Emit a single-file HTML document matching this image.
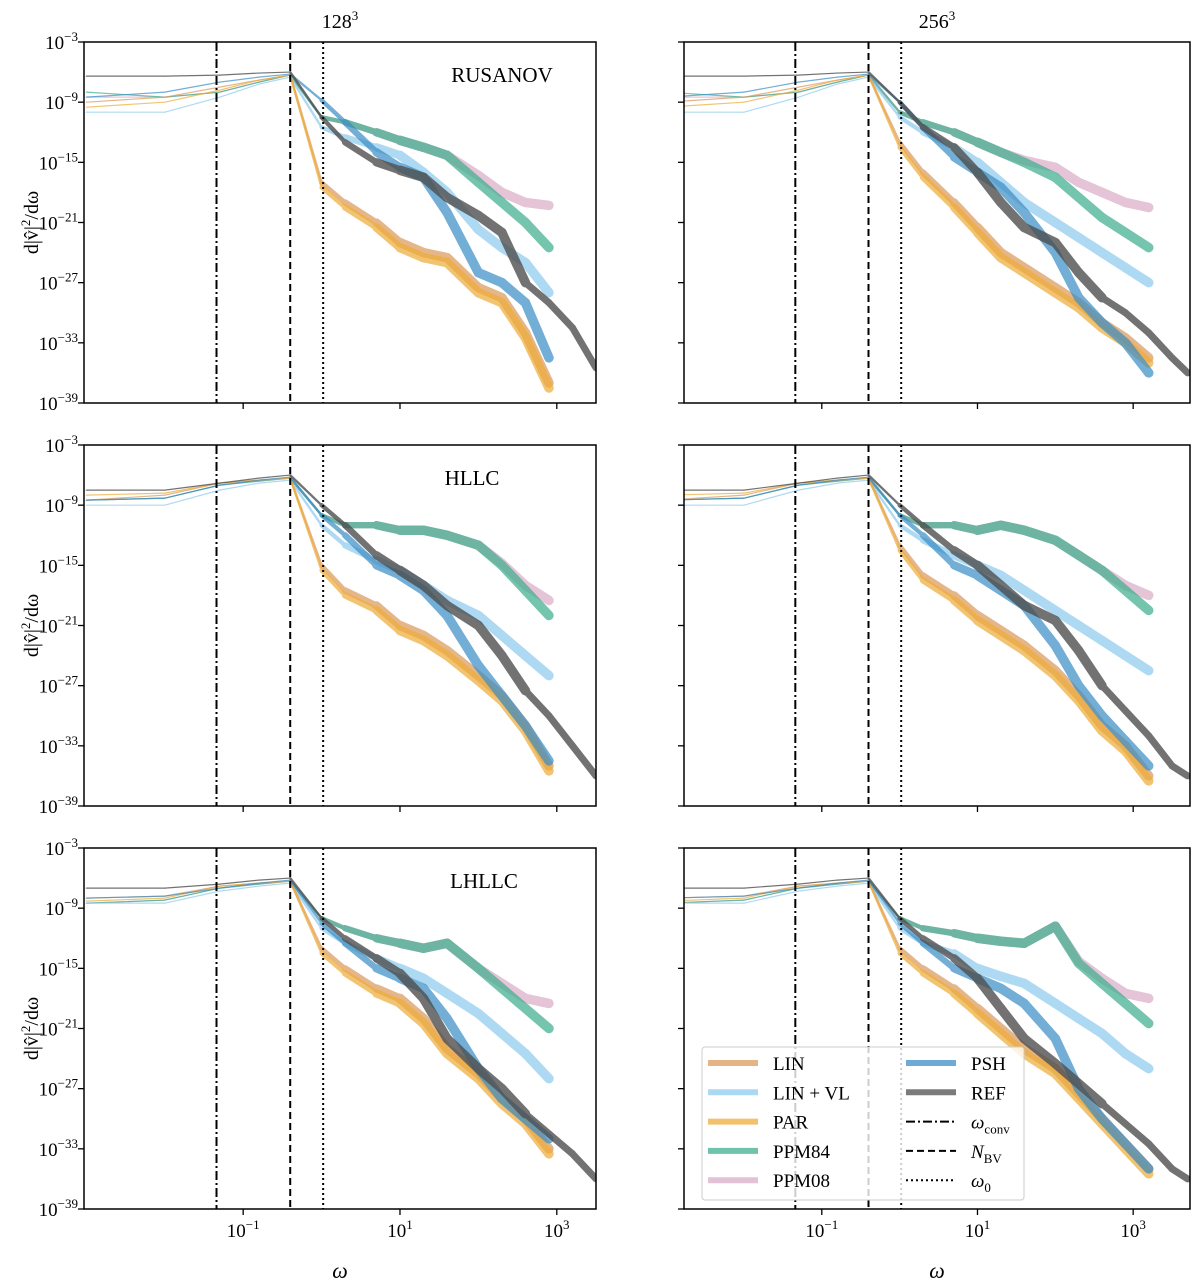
<!DOCTYPE html>
<html><head><meta charset="utf-8"><style>
html,body{margin:0;padding:0;background:#fff}
svg{display:block;font-family:"Liberation Serif",serif}
</style></head><body>
<svg id="fig" width="1200" height="1285" viewBox="0 0 1200 1285" xmlns="http://www.w3.org/2000/svg">
<g id="root"></g>
</svg>
<script>
// shared log10(omega) sample grid
const logOmega = [-3,-2,-1.3,-0.8,-0.4,0,0.3,0.7,1,1.3,1.6,2,2.3,2.6,2.9,3.2,3.5,3.7];
const yTicks = [-3,-9,-15,-21,-27,-33,-39];
const xTicks = [-1,1,3];
const vlines = [-1.34,-0.40,0.02];
const seriesNames = ["PPM08","PPM84","LINVL","LIN","PAR","PSH","REF"];
const legendLabels = ["LIN","LIN + VL","PAR","PPM84","PPM08","PSH","REF"];
const rowTitles = ["RUSANOV","HLLC","LHLLC"];
const colTitles = ["128","256"];

// RUSANOV 128
const r128_REF=[-6.4,-6.4,-6.3,-6.1,-6.0,-10.5,-13,-15,-15.8,-16.5,-18.5,-20.3,-22,-27,-29,-31.5,-35.5,null];
const r128_PSH=[-8.5,-8,-7,-6.5,-6.2,-8.8,-11,-14,-15.5,-16.5,-20,-26,-27,-29,-34.5,null,null,null];
const r128_LIN=[-9,-8.5,-7.5,-6.8,-6.3,-17,-19,-21,-23,-24,-24.5,-27.5,-28.5,-32,-37,null,null,null];
const r128_PAR=[-9.5,-9,-7.8,-6.8,-6.3,-17.5,-19.5,-21.5,-23.5,-24.5,-25,-28,-29,-32.5,-37.5,null,null,null];
const r128_LINVL=[-10,-10,-8.5,-7.2,-6.5,-11.5,-12.5,-13.5,-14.3,-16,-18,-21.7,-23.5,-25,-28,null,null,null];
const r128_PPM84=[-8,-8.5,-8,-7,-6.3,-10.5,-11,-12,-12.8,-13.5,-14.3,-17,-19,-21,-23.5,null,null,null];
const r128_PPM08=[-8.5,-8.5,-8,-7,-6.3,-10.5,-11,-12,-12.8,-13.5,-14.3,-16.3,-18,-19,-19.3,null,null,null];
// RUSANOV 256
const r256_REF=[-6.4,-6.4,-6.3,-6.1,-6.0,-9,-11.5,-13.5,-16,-19,-21.5,-23,-26,-28.5,-30,-32,-34.5,-36];
const r256_PSH=[-8.5,-8,-7,-6.5,-6.2,-9,-11.5,-14.5,-16,-17.5,-20,-24,-28.5,-31,-33,-36,null,null];
const r256_LIN=[-9,-8.5,-7.5,-6.8,-6.3,-13,-16,-19,-21.5,-24,-25.5,-27.5,-29,-31,-32.5,-34.5,null,null];
const r256_PAR=[-9.5,-9,-7.8,-6.8,-6.3,-13.5,-16.5,-19.5,-22,-24.5,-26,-28,-29.5,-31.5,-33,-35,null,null];
const r256_LINVL=[-10,-10,-8.5,-7.2,-6.5,-10.5,-12,-13.5,-15,-17,-19,-21,-22.5,-24,-25.5,-27,null,null];
const r256_PPM84=[-8,-8.5,-8,-7,-6.3,-10,-11,-12,-13,-14,-15,-16.5,-18.5,-20.5,-22,-23.5,null,null];
const r256_PPM08=[-8.5,-8.5,-8,-7,-6.3,-10,-11,-12,-13,-14,-14.8,-15.5,-17,-18,-19,-19.5,null,null];
// HLLC 128
const h128_REF=[-7.5,-7.5,-6.8,-6.3,-6.0,-9,-11,-14,-15.5,-17,-19,-21,-24,-27.5,-30,-33,-36,null];
const h128_PSH=[-8.5,-8.3,-7,-6.5,-6.2,-10,-12,-15,-16,-17.5,-20,-25,-28,-31,-34.5,null,null,null];
const h128_LIN=[-8.5,-8,-6.8,-6.5,-6.3,-15,-17.5,-19,-21,-22,-23.5,-26,-28,-31,-35,null,null,null];
const h128_PAR=[-8,-7.8,-6.8,-6.5,-6.3,-15.5,-18,-19.5,-21.5,-22.5,-24,-26.5,-28.5,-31.5,-35.5,null,null,null];
const h128_LINVL=[-9,-9,-7.5,-6.8,-6.5,-11,-13,-14.5,-15.5,-17,-18.5,-20,-22,-24,-26,null,null,null];
const h128_PPM84=[-8.5,-8.3,-7,-6.6,-6.3,-10,-11,-11,-11.5,-11.5,-12,-13,-15,-17.5,-20,null,null,null];
const h128_PPM08=[-8.5,-8.3,-7,-6.6,-6.3,-10,-11,-11,-11.5,-11.5,-12,-13,-14.8,-17,-18.5,null,null,null];
// HLLC 256
const h256_REF=[-7.5,-7.5,-6.8,-6.3,-6.0,-9,-11,-13.5,-15,-17,-19,-20.5,-23.5,-27,-29.5,-32,-35,-36];
const h256_PSH=[-8.5,-8.3,-7,-6.5,-6.2,-10,-12,-15,-16,-17.5,-19,-23,-27,-30,-32.5,-35,null,null];
const h256_LIN=[-8.5,-8,-6.8,-6.5,-6.3,-13,-16,-18,-20,-21.5,-23,-25.5,-28,-31,-33,-36,null,null];
const h256_PAR=[-8,-7.8,-6.8,-6.5,-6.3,-13.5,-16.5,-18.5,-20.5,-22,-23.5,-26,-28.5,-31.5,-33.5,-36.5,null,null];
const h256_LINVL=[-9,-9,-7.5,-6.8,-6.5,-11,-12.5,-14,-15,-16,-17.5,-19.5,-21,-22.5,-24,-25.5,null,null];
const h256_PPM84=[-8.5,-8.3,-7,-6.6,-6.3,-10,-11,-11,-11.5,-11,-11.5,-12.5,-14,-15.5,-17.5,-19.5,null,null];
const h256_PPM08=[-8.5,-8.3,-7,-6.6,-6.3,-10,-11,-11,-11.5,-11,-11.5,-12.5,-14,-15.5,-17,-18,null,null];
// LHLLC 128
const l128_REF=[-7,-7,-6.6,-6.2,-6.0,-10,-12,-14,-15.5,-18,-22,-25,-27,-29.5,-31.5,-33.5,-36,null];
const l128_PSH=[-8,-7.8,-7,-6.5,-6.2,-10.5,-12.5,-15,-16,-17,-20,-25,-28,-30,-32,null,null,null];
const l128_LIN=[-8,-7.8,-6.8,-6.5,-6.3,-13,-15,-17,-18,-20,-23,-25.5,-28,-30,-33,null,null,null];
const l128_PAR=[-8.3,-8,-6.8,-6.5,-6.3,-13.5,-15.5,-17.5,-18.5,-20.5,-23.5,-26,-28.5,-30.5,-33.5,null,null,null];
const l128_LINVL=[-8.5,-8.5,-7.3,-6.8,-6.5,-11,-12.5,-14,-15,-16,-17.5,-19.5,-21.5,-23.5,-26,null,null,null];
const l128_PPM84=[-8.5,-8.2,-7,-6.6,-6.3,-10,-11,-12,-12.5,-13,-12.5,-15,-17,-19,-21,null,null,null];
const l128_PPM08=[-8.5,-8.2,-7,-6.6,-6.3,-10,-11,-12,-12.5,-13,-12.5,-15,-16.5,-18,-18.5,null,null,null];
// LHLLC 256
const l256_REF=[-7,-7,-6.6,-6.2,-6.0,-10,-12,-14,-16,-19,-22,-24.5,-26.5,-28.5,-30.5,-32.5,-35,-36];
const l256_PSH=[-8,-7.8,-7,-6.5,-6.2,-10.5,-12.5,-15,-16,-17,-18.5,-22,-27,-30,-32.5,-35,null,null];
const l256_LIN=[-8,-7.8,-6.8,-6.5,-6.3,-13,-15,-17,-19,-21,-23,-25,-27.5,-30,-32.5,-35,null,null];
const l256_PAR=[-8.3,-8,-6.8,-6.5,-6.3,-13.5,-15.5,-17.5,-19.5,-21.5,-23.5,-25.5,-28,-30.5,-33,-35.5,null,null];
const l256_LINVL=[-8.5,-8.5,-7.3,-6.8,-6.5,-11,-12.5,-13.5,-15,-15.8,-16.5,-18.5,-20,-21.5,-23.5,-25,null,null];
const l256_PPM84=[-8.5,-8.2,-7,-6.6,-6.3,-10,-11,-11.5,-12,-12.3,-12.5,-10.8,-14.5,-16.5,-18.5,-20.5,null,null];
const l256_PPM08=[-8.5,-8.2,-7,-6.6,-6.3,-10,-11,-11.5,-12,-12.3,-12.5,-10.8,-14.3,-16,-17.5,-18,null,null];

const panelData = [
 [{REF:r128_REF,PSH:r128_PSH,LIN:r128_LIN,PAR:r128_PAR,LINVL:r128_LINVL,PPM84:r128_PPM84,PPM08:r128_PPM08},
  {REF:r256_REF,PSH:r256_PSH,LIN:r256_LIN,PAR:r256_PAR,LINVL:r256_LINVL,PPM84:r256_PPM84,PPM08:r256_PPM08}],
 [{REF:h128_REF,PSH:h128_PSH,LIN:h128_LIN,PAR:h128_PAR,LINVL:h128_LINVL,PPM84:h128_PPM84,PPM08:h128_PPM08},
  {REF:h256_REF,PSH:h256_PSH,LIN:h256_LIN,PAR:h256_PAR,LINVL:h256_LINVL,PPM84:h256_PPM84,PPM08:h256_PPM08}],
 [{REF:l128_REF,PSH:l128_PSH,LIN:l128_LIN,PAR:l128_PAR,LINVL:l128_LINVL,PPM84:l128_PPM84,PPM08:l128_PPM08},
  {REF:l256_REF,PSH:l256_PSH,LIN:l256_LIN,PAR:l256_PAR,LINVL:l256_LINVL,PPM84:l256_PPM84,PPM08:l256_PPM08}]
];

const colors={LIN:"#dc9a5e",LINVL:"#8fcbef",PAR:"#eead3a",PPM84:"#3fae8f",PPM08:"#dcaec8",PSH:"#3d8fc6",REF:"#4f4f4f"};
const legendKeys=["LIN","LINVL","PAR","PPM84","PPM08","PSH","REF"];
const NS="http://www.w3.org/2000/svg";
const root=document.getElementById('root');
function mk(tag,attrs,parent){const e=document.createElementNS(NS,tag);for(const k in attrs)e.setAttribute(k,attrs[k]);(parent||root).appendChild(e);return e;}
const cols=[{x0:84,x1:596,min:-3.03,max:3.5},{x0:684,x1:1190,min:-2.77,max:3.73}];
const rowsTop=[42,445,848];const H=361;
const defs=mk('defs',{});
function sup(t,base,exp){const a=mk('tspan',{},t);a.textContent=base;const b=mk('tspan',{dy:-8,'font-size':13},t);b.textContent=exp;}

for(let r=0;r<3;r++){for(let c=0;c<2;c++){
 const C=cols[c],top=rowsTop[r];
 const sx=v=>C.x0+(v-C.min)/(C.max-C.min)*(C.x1-C.x0);
 const sy=v=>top+(-3-v)/36*H;
 const cid='clip'+r+c;
 const cp=mk('clipPath',{id:cid},defs);mk('rect',{x:C.x0,y:top,width:C.x1-C.x0,height:H},cp);
 const g=mk('g',{'clip-path':'url(#'+cid+')'});
 
 
 const d=panelData[r][c];
 for(const s of seriesNames){
  const vals=d[s];const sg=mk('g',{opacity:s==='REF'?0.8:0.72},g);
  
  
  for(let i=0;i<logOmega.length-1;i++){
   if(vals[i]==null||vals[i+1]==null)continue;
   const xm=(logOmega[i]+logOmega[i+1])/2;
   let w=xm<-0.4?1.2:(xm<1?1.2+(xm+0.4)/1.4*8:9.5);
   if(s==='REF'&&xm>2.5)w=7;
   const ln=mk('line',{x1:sx(logOmega[i]),y1:sy(vals[i]),x2:sx(logOmega[i+1]),y2:sy(vals[i+1]),stroke:colors[s],'stroke-width':w,'stroke-linecap':'round'},sg);
   
   
  }
 }
 const dashes=["9,3,2,3","7,4","2,3"];
 vlines.forEach((v,i)=>{const l=mk('line',{x1:sx(v),x2:sx(v),y1:top,y2:top+H,stroke:'#000','stroke-width':2,'stroke-dasharray':dashes[i]},g);
  
  });
 const fr=mk('rect',{x:C.x0,y:top,width:C.x1-C.x0,height:H,fill:'none',stroke:'#000','stroke-width':1.5});
 
 
 yTicks.forEach(t=>{mk('line',{x1:C.x0-6,x2:C.x0,y1:sy(t),y2:sy(t),stroke:'#000','stroke-width':1.3});
  if(c===0){const tx=mk('text',{x:C.x0-6,y:sy(t)+7,'text-anchor':'end','font-size':19});
   sup(tx,'10','\u2212'+(-t));}});
 xTicks.forEach(t=>{mk('line',{x1:sx(t),x2:sx(t),y1:top+H,y2:top+H+6,stroke:'#000','stroke-width':1.3});
  if(r===2){const tx=mk('text',{x:sx(t),y:top+H+28,'text-anchor':'middle','font-size':19});
   sup(tx,'10',t<0?'\u22121':String(t));}});
 if(c===0){const pt=mk('text',{x:{0:502,1:472,2:484}[r],y:top+40,'text-anchor':'middle','font-size':21});
  pt.textContent=rowTitles[r];
  const yl=mk('text',{x:0,y:0,'text-anchor':'middle','font-size':20,transform:'translate(38,'+(top+H/2)+') rotate(-90)'});
  
  yl.textContent='d|v\u0302|';const s2=mk('tspan',{dy:-8,'font-size':13},yl);s2.textContent='2';const s3=mk('tspan',{dy:8},yl);s3.textContent='/d\u03c9';}
 if(r===0){const ct=mk('text',{x:(C.x0+C.x1)/2,y:28,'text-anchor':'middle','font-size':20});
  sup(ct,colTitles[c],'3');}
 if(r===2){const xl=mk('text',{x:(C.x0+C.x1)/2,y:1278,'text-anchor':'middle','font-size':22,'font-style':'italic'});
  xl.textContent='\u03c9';}
}}
// legend
const lg=mk('g',{});

mk('rect',{x:702,y:1047,width:322,height:153,fill:'#fff','fill-opacity':0.8,stroke:'#ccc',rx:3},lg);
legendKeys.forEach((k,i)=>{const col=i<5?0:1,row=i<5?i:i-5;const x=col?906:708,y=1063+row*29.3;
 const e=mk('g',{},lg);
 mk('line',{x1:x,x2:x+50,y1:y,y2:y,stroke:colors[k],'stroke-width':6,opacity:0.75},e);
 const t=mk('text',{x:x+65,y:y+7,'font-size':19},e);t.textContent=legendLabels[i];});
const ld=[["9,3,2,3","\u03c9","conv"],["7,4","N","BV"],["2,3","\u03c9","0"]];
ld.forEach((d,i)=>{const y=1063+(i+2)*29.3;const e=mk('g',{},lg);
 
 mk('line',{x1:906,x2:956,y1:y,y2:y,stroke:'#000','stroke-width':2,'stroke-dasharray':d[0]},e);
 const t=mk('text',{x:971,y:y+7,'font-size':19},e);const a=mk('tspan',{'font-style':'italic'},t);a.textContent=d[1];
 const b=mk('tspan',{dy:5,'font-size':13},t);b.textContent=d[2];});
</script>
</body></html>
